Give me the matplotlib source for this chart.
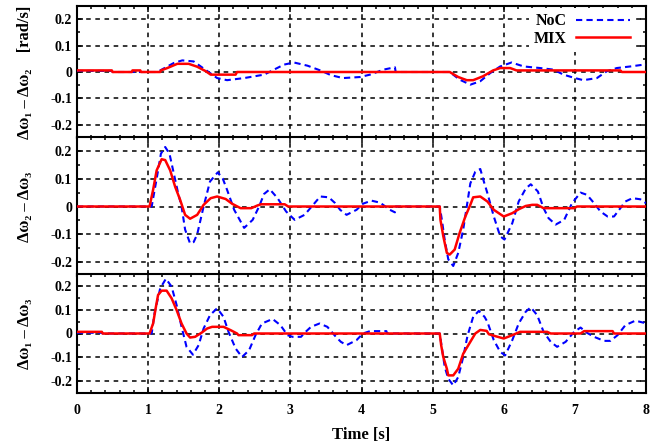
import matplotlib
matplotlib.use('Agg')
import matplotlib.pyplot as plt
from matplotlib.ticker import MultipleLocator

plt.rcParams['font.family'] = ['Liberation Serif', 'DejaVu Serif']
plt.rcParams['font.weight'] = 'bold'

# ---- data (time [s], value [rad/s]) ----
t_noc_12 = [0, 0.49, 0.5, 1.1, 1.17, 1.36, 1.48, 1.64, 1.74, 1.85, 1.97, 2.11, 2.35, 2.63, 2.77,
            2.91, 3.05, 3.24, 3.43, 3.57, 3.74, 3.98, 4.12, 4.31, 4.47, 4.48, 5.24, 5.38, 5.53,
            5.67, 5.81, 5.95, 6.11, 6.28, 6.51, 6.70, 6.84, 7.00, 7.12, 7.31, 7.45, 7.59, 7.78,
            7.97, 8.0]
noc_12 = [0.004, 0.004, 0, 0, 0.006, 0.034, 0.044, 0.040, 0.021, 0.0, -0.023, -0.031, -0.023,
          -0.010, 0.009, 0.028, 0.036, 0.024, 0.005, -0.012, -0.023, -0.019, -0.010, 0.009, 0.018,
          0.0, 0.0, -0.029, -0.048, -0.035, -0.004, 0.021, 0.036, 0.021, 0.015, 0.009, -0.010,
          -0.023, -0.031, -0.023, 0.003, 0.015, 0.021, 0.028, 0.028]

t_mix_12 = [0, 0.49, 0.5, 0.77, 0.78, 0.89, 0.9, 1.17, 1.18, 1.27, 1.41, 1.57, 1.69, 1.81, 1.88,
            2.23, 2.25, 5.24, 5.36, 5.48, 5.57, 5.71, 5.85, 5.95, 6.09, 6.18, 7.64, 7.66, 8.0]
mix_12 = [0.006, 0.006, 0, 0, 0.006, 0.006, 0, 0, 0.006, 0.015, 0.031, 0.031, 0.020, 0.003,
          -0.010, -0.010, 0, 0, -0.019, -0.031, -0.031, -0.016, 0.006, 0.015, 0.015, 0.006,
          0.006, 0, 0]

t_noc_23 = [0, 1.05, 1.12, 1.18, 1.24, 1.30, 1.36, 1.42, 1.47, 1.52, 1.59, 1.64, 1.69, 1.78,
            1.87, 1.98, 2.05, 2.11, 2.21, 2.35, 2.47, 2.56, 2.63, 2.71, 2.82, 2.94, 3.06, 3.20,
            3.30, 3.42, 3.54, 3.63, 3.70, 3.79, 3.93, 4.02, 4.14, 4.26, 4.40, 4.47, 4.48, 5.10,
            5.13, 5.17, 5.22, 5.29, 5.36, 5.43, 5.48, 5.53, 5.60, 5.67, 5.72, 5.77, 5.86, 5.95,
            6.01, 6.12, 6.21, 6.31, 6.38, 6.48, 6.56, 6.63, 6.73, 6.85, 6.96, 7.08, 7.17, 7.27,
            7.36, 7.46, 7.55, 7.64, 7.71, 7.81, 7.92, 8.0]
noc_23 = [0, 0, 0.10, 0.19, 0.214, 0.19, 0.12, 0.05, 0.0, -0.083, -0.133, -0.128, -0.10, 0.0,
          0.09, 0.123, 0.10, 0.06, -0.012, -0.077, -0.048, 0.0, 0.045, 0.062, 0.030, -0.018,
          -0.048, -0.030, 0.0, 0.036, 0.033, 0.012, -0.012, -0.030, -0.012, 0.010, 0.021, 0.014,
          -0.012, -0.021, 0.0, 0.0, -0.048, -0.12, -0.19, -0.214, -0.167, -0.083, 0.0, 0.083,
          0.125, 0.135, 0.09, 0.048, -0.036, -0.107, -0.119, -0.060, 0.018, 0.065, 0.080, 0.054,
          -0.006, -0.042, -0.065, -0.048, 0.012, 0.050, 0.042, 0.012, -0.018, -0.036, -0.036,
          -0.006, 0.018, 0.030, 0.026, 0.012]

t_mix_23 = [0, 1.02, 1.07, 1.12, 1.19, 1.24, 1.31, 1.38, 1.45, 1.52, 1.59, 1.69, 1.78, 1.88,
            1.97, 2.09, 2.18, 2.30, 2.45, 2.54, 2.59, 2.92, 2.97, 5.10, 5.11, 5.15, 5.20, 5.24,
            5.31, 5.38, 5.46, 5.53, 5.57, 5.67, 5.77, 5.86, 6.00, 6.12, 6.21, 6.31, 6.40, 6.47,
            6.56, 6.99, 7.03, 8.0]
mix_23 = [0, 0, 0.06, 0.13, 0.17, 0.167, 0.13, 0.071, 0.024, -0.030, -0.044, -0.030, 0.006,
          0.030, 0.036, 0.027, 0.010, -0.006, -0.006, 0.004, 0.008, 0.008, 0, 0, -0.048, -0.107,
          -0.167, -0.173, -0.155, -0.095, -0.036, 0.006, 0.033, 0.036, 0.018, -0.012, -0.036,
          -0.024, -0.010, 0.002, 0.006, 0.006, -0.006, -0.006, 0, 0]

t_noc_13 = [0, 0.35, 0.36, 1.05, 1.09, 1.17, 1.25, 1.33, 1.40, 1.47, 1.54, 1.63, 1.71, 1.78,
            1.87, 1.97, 2.06, 2.13, 2.23, 2.32, 2.42, 2.51, 2.60, 2.75, 2.86, 2.96, 3.03, 3.15,
            3.19, 3.29, 3.41, 3.52, 3.64, 3.71, 3.79, 3.93, 4.02, 4.12, 4.35, 4.36, 5.10, 5.17,
            5.22, 5.29, 5.36, 5.43, 5.49, 5.57, 5.65, 5.73, 5.77, 5.86, 5.95, 6.02, 6.12, 6.21,
            6.31, 6.38, 6.47, 6.56, 6.66, 6.75, 6.87, 6.99, 7.08, 7.17, 7.27, 7.41, 7.50, 7.60,
            7.71, 7.85, 7.97, 8.0]
noc_13 = [0.003, 0.003, 0, 0, 0.085, 0.19, 0.23, 0.197, 0.12, 0.028, -0.056, -0.089, -0.049,
          0.021, 0.077, 0.106, 0.070, 0.007, -0.063, -0.099, -0.070, -0.007, 0.042, 0.061, 0.035,
          -0.007, -0.014, -0.014, 0.0, 0.028, 0.042, 0.028, -0.014, -0.035, -0.049, -0.028, 0.0,
          0.010, 0.010, 0.0, 0.0, -0.14, -0.19, -0.218, -0.183, -0.099, -0.01, 0.07, 0.095, 0.07,
          0.049, -0.028, -0.077, -0.092, -0.028, 0.042, 0.092, 0.110, 0.077, 0.007, -0.035,
          -0.056, -0.035, 0.007, 0.025, 0.003, -0.014, -0.031, -0.031, -0.007, 0.035, 0.054,
          0.045, 0.040]

t_mix_13 = [0, 0.35, 0.36, 1.02, 1.07, 1.11, 1.14, 1.19, 1.26, 1.33, 1.40, 1.47, 1.54, 1.59,
            1.66, 1.75, 1.83, 1.90, 2.06, 2.16, 2.25, 2.27, 2.46, 2.49, 5.10, 5.12, 5.15, 5.20,
            5.22, 5.29, 5.36, 5.43, 5.53, 5.60, 5.67, 5.76, 5.79, 5.88, 6.00, 6.12, 6.23, 6.61,
            6.66, 7.08, 7.13, 7.53, 7.55, 8.0]
mix_13 = [0.007, 0.007, 0, 0, 0.042, 0.113, 0.162, 0.180, 0.180, 0.148, 0.099, 0.042, 0.0,
          -0.017, -0.014, 0.003, 0.021, 0.028, 0.028, 0.014, 0, -0.007, -0.007, 0, 0, -0.049,
          -0.099, -0.148, -0.176, -0.176, -0.148, -0.085, -0.035, 0, 0.015, 0.011, -0.003,
          -0.011, -0.021, -0.007, 0.007, 0.007, 0, 0, 0.010, 0.010, 0, 0]

ylabels = ['Δω\u2081 \u2013 Δω\u2082    [rad/s]', 'Δω\u2082 \u2013 Δω\u2083', 'Δω\u2081 \u2013 Δω\u2083']
ytick_vals = [-0.2, -0.1, 0, 0.1, 0.2]
ytick_text = ['-0.2', '-0.1', '0', '0.1', '0.2']
xtick_vals = [0, 1, 2, 3, 4, 5, 6, 7, 8]

# ---- figure ----
fig = plt.figure(figsize=(6.58, 4.47), dpi=100)
left, width = 77 / 658, 569 / 658
ax1 = fig.add_axes([left, 309 / 447, width, 132 / 447])
ax2 = fig.add_axes([left, 171 / 447, width, 139 / 447])
ax3 = fig.add_axes([left, 54 / 447, width, 119 / 447])

panels = [(ax1, t_noc_12, noc_12, t_mix_12, mix_12),
          (ax2, t_noc_23, noc_23, t_mix_23, mix_23),
          (ax3, t_noc_13, noc_13, t_mix_13, mix_13)]

for i, (ax, tn, yn, tm, ym) in enumerate(panels):
    ax.plot(tn, yn, color='#0000ff', lw=1.5, ls=(0, (3, 2)), label='NoC', zorder=3)
    ax.plot(tm, ym, color='#ff0000', lw=1.8, label='MIX', zorder=4)
    ax.set_xlim(0, 8)
    ax.set_ylim(-0.25, 0.25)
    ax.set_xticks(xtick_vals)
    ax.xaxis.set_minor_locator(MultipleLocator(0.2))
    ax.set_yticks(ytick_vals)
    ax.set_yticklabels(ytick_text)
    ax.yaxis.set_minor_locator(MultipleLocator(0.05))
    ax.grid(True, which='major', color='black', lw=1.1, ls=(0, (3, 3)))
    ax.set_axisbelow(True)
    ax.tick_params(which='both', direction='in', top=True, right=True, width=1.1,
                   labelsize=10)
    ax.tick_params(which='major', length=4.5)
    ax.tick_params(which='minor', length=2.5)
    ax.tick_params(axis='x', pad=8)
    for sp in ax.spines.values():
        sp.set_linewidth(1.5)
    ax.set_ylabel(ylabels[i], fontsize=12, fontweight='bold')
    ax.yaxis.set_label_coords(-0.078, 0.5)
    if i < 2:
        ax.tick_params(labelbottom=False)
    for lab in ax.get_xticklabels() + ax.get_yticklabels():
        lab.set_fontweight('bold')

leg = ax1.legend(loc='upper right', markerfirst=False, frameon=True, fancybox=False,
                 handlelength=3.4, fontsize=11.5, borderaxespad=0.15, labelspacing=0.1,
                 handletextpad=0.6, borderpad=0.3, bbox_to_anchor=(0.985, 1.0))
leg.get_frame().set_edgecolor('none')
leg.get_frame().set_facecolor('white')
leg.get_frame().set_alpha(1)
leg.set_zorder(5)
for txt in leg.get_texts():
    txt.set_fontweight('bold')

ax3.set_xlabel('Time [s]', fontsize=12, fontweight='bold', labelpad=7)

plt.savefig('out.png', dpi=100)
